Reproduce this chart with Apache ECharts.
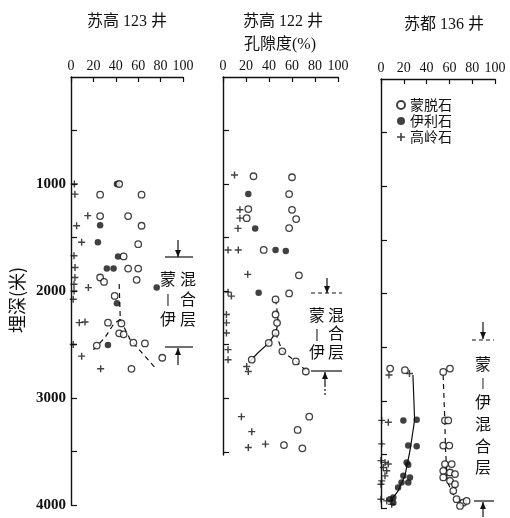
<!DOCTYPE html>
<html><head><meta charset="utf-8">
<script src="https://cdn.jsdelivr.net/npm/echarts@6/dist/echarts.min.js"></script>
<style>html,body{margin:0;padding:0;background:#fff}#c{width:510px;height:518px}</style>
</head><body><div id="c"></div>
<script>
// ---------- data ----------
const wellNames = ['苏高 123 井', '苏高 122 井', '苏都 136 井'];
const xTickValues = [0, 20, 40, 60, 80, 100];
const depthLabelValues = [1000, 2000, 3000, 4000];
const depthTickValues = [500, 1000, 1500, 2000, 2500, 3000, 3500, 4000];
const depthMax = [4000, 3530, 4000];
const legendNames = ['蒙脱石', '伊利石', '高岭石'];

// 苏高 123 井  [percent, depth m]
const p1Kaolinite = [[3,1000],[3.5,1095],[15,1296],[5,1390],[9.5,1545],[2.7,1671],[3.6,1780],[3.5,1874],[2.7,1937],[15.5,1968],[2.7,2000],[2,2077],[7.4,2296],[12.5,2290],[2,2500],[9.5,2609],[26.5,2727]];
const p1Illite = [[41,1000],[26,1385],[24,1545],[42,1677],[32,1790],[38,1790],[76.5,1968],[41,2115],[33,2505]];
const p1Smectite = [[43,1000],[26,1100],[63,1100],[26,1300],[51,1300],[63,1390],[60,1562],[47,1677],[51,1790],[60,1790],[26,1874],[29.5,1915],[58.6,1896],[39,2046],[33,2296],[45,2303],[43,2396],[47,2405],[55.7,2483],[66,2490],[23,2510],[81.5,2624],[54,2727]];
const p1Trunk = [[43,1935],[43.5,2100],[44,2265]];
const p1Left = [[44,2265],[38,2310],[30,2440],[18.5,2565]];
const p1Right = [[44,2265],[52.7,2452],[66,2609],[76.5,2734]];

// 苏高 122 井
const p2Kaolinite = [[10,915],[14.7,1240],[14.7,1318],[13,1414],[4.4,1615],[13.3,1615],[21.5,1843],[4.4,2009],[7.3,2046],[3,2218],[3,2296],[3,2390],[4.4,2546],[4.4,2640],[20.6,2703],[22,2750],[16,3172],[25,3312],[22,3460],[36.9,3428]];
const p2Illite = [[22,1093],[28,1414],[45.7,1615],[54.6,1624],[31,2015]];
const p2Smectite = [[26.5,927],[60,936],[57.5,1093],[22,1233],[20.6,1318],[60,1240],[63.6,1327],[57.5,1411],[35.4,1615],[66,1852],[57.5,2021],[45.7,2077],[45.7,2218],[47,2296],[45.7,2390],[39.8,2483],[25,2640],[51.6,2562],[63.4,2656],[72,2750],[75,3172],[64.9,3296],[53,3437],[69,3468]];
const p2Trunk = [[45.7,2077],[47,2180],[48,2296],[45.7,2390]];
const p2Left = [[45.7,2390],[39.8,2483],[30,2580],[23,2660]];
const p2Right = [[45.7,2390],[51.6,2562],[63.4,2656],[73,2750]];

// 苏都 136 井
const p3Kaolinite = [[7,2760],[25,2746],[0.6,3183],[6.4,3200],[0.6,3402],[0,3558],[3.5,3575],[6.4,3590],[2,3622],[5,3653],[3.5,3700],[0.6,3747],[0,3778],[0,3918],[5,3934],[9.4,3965]];
const p3Illite = [[19.6,3183],[31.3,3177],[23.9,3418],[31.3,3425],[22.5,3575],[23.9,3596],[19.6,3700],[25.4,3715],[23.9,3762],[18,3762],[15,3809],[10.8,3903],[7.9,3918],[10.8,3950]];
const p3Smectite = [[8,2700],[21,2715],[60.5,2700],[54.6,2731],[56.1,3183],[59,3183],[54.6,3418],[59.9,3418],[56.1,3590],[62,3590],[54.6,3653],[60.5,3669],[64.9,3684],[54.6,3715],[60.5,3747],[64.9,3778],[63.4,3840],[66.3,3918],[72.1,3950],[69.3,3981],[75.1,3934]];
const p3Left = [[28,2760],[29.5,3180],[25.5,3460],[21,3700],[15,3840],[8,3940]];
const p3Right = [[54.5,2760],[56,3190],[56.5,3420],[58,3750],[63,3870],[72,3950]];

// ---------- chart ----------
const INK = '#111';
const SERIF = "'Liberation Serif','DejaVu Serif','Noto Sans CJK SC',serif";
const CJK = "'Noto Sans CJK SC','Liberation Serif',sans-serif";
const plusPath = 'path://M4,0H6V4H10V6H6V10H4V6H0V4H4Z';

const grids = [
  {left: 71, top: 77, width: 112, height: 428},
  {left: 223, top: 77, width: 115, height: 378},
  {left: 381, top: 79, width: 114, height: 429}
];

const panels = [
  {k: p1Kaolinite, i: p1Illite, s: p1Smectite, lines: [[p1Trunk,'dashed'],[p1Left,'dashed'],[p1Right,'dashed']]},
  {k: p2Kaolinite, i: p2Illite, s: p2Smectite, lines: [[p2Trunk,'dashed'],[p2Left,'solid'],[p2Right,'dashed']]},
  {k: p3Kaolinite, i: p3Illite, s: p3Smectite, lines: [[p3Left,'solid'],[p3Right,'dashed']]}
];

const xAxes = grids.map((gr, idx) => ({
  type: 'value', gridIndex: idx, position: 'top', min: 0, max: 100, interval: 20,
  axisLine: {show: true, lineStyle: {color: INK, width: 1.3}},
  axisTick: {show: true, inside: true, length: 5, lineStyle: {color: INK, width: 1.2}},
  axisLabel: {show: true, margin: 4, fontSize: 14, color: INK, fontFamily: SERIF,
    customValues: xTickValues},
  splitLine: {show: false}
}));

const yAxes = grids.map((gr, idx) => ({
  type: 'value', gridIndex: idx, inverse: true, min: 0, max: depthMax[idx],
  axisLine: {show: true, onZero: false, lineStyle: {color: INK, width: 1.4}},
  axisTick: {show: true, inside: true, length: 6, lineStyle: {color: INK, width: 1.2},
    customValues: depthTickValues.filter(v => v <= depthMax[idx])},
  axisLabel: {show: idx === 0, margin: 5, fontSize: 15, fontWeight: 'bold', color: INK, fontFamily: SERIF,
    customValues: depthLabelValues, formatter: v => String(v)},
  splitLine: {show: false}
}));

const series = [];
panels.forEach((p, idx) => {
  p.lines.forEach(([d, style]) => {
    series.push({type: 'line', xAxisIndex: idx, yAxisIndex: idx, data: d, symbol: 'none',
      lineStyle: {color: INK, width: 1.2, type: style === 'dashed' ? [5, 4] : 'solid'},
      silent: true, z: 1, animation: false});
  });
  series.push({name: '高岭石', type: 'scatter', xAxisIndex: idx, yAxisIndex: idx, data: p.k,
    symbol: plusPath, symbolSize: 7, itemStyle: {color: INK}, z: 3, animation: false});
  series.push({name: '伊利石', type: 'scatter', xAxisIndex: idx, yAxisIndex: idx, data: p.i,
    symbol: 'circle', symbolSize: 6.5, itemStyle: {color: INK}, z: 3, animation: false});
  series.push({name: '蒙脱石', type: 'scatter', xAxisIndex: idx, yAxisIndex: idx, data: p.s,
    symbol: 'circle', symbolSize: 6.5, itemStyle: {color: '#fff', borderColor: INK, borderWidth: 1.3}, z: 4, animation: false});
});

// ---------- annotations ----------
const g = [];
function txt(x, y, s, size, font, rot) {
  g.push({type: 'text', x: x, y: y, rotation: rot || 0,
    style: {text: s, fill: INK, font: (size || 16) + 'px ' + (font || CJK), align: 'center', verticalAlign: 'middle'}});
}
function seg(x1, y1, x2, y2, dash) {
  g.push({type: 'line', shape: {x1, y1, x2, y2}, style: {stroke: INK, lineWidth: 1.2, lineDash: dash || null}});
}
function arrow(x, yFrom, yTo) {
  const d = yTo > yFrom ? 1 : -1;
  seg(x, yFrom, x, yTo);
  g.push({type: 'polygon', shape: {points: [[x - 3, yTo - 7 * d], [x + 3, yTo - 7 * d], [x, yTo]]}, style: {fill: INK}});
}
// titles
txt(127, 22, wellNames[0], 16, SERIF);
txt(283, 22, wellNames[1], 16, SERIF);
txt(280, 45, '孔隙度(%)', 16, SERIF);
txt(444, 25, wellNames[2], 16, SERIF);
txt(17, 300, '埋深(米)', 18, CJK, Math.PI / 2);

// panel 1 mixed layer
arrow(178, 240, 257); seg(165, 257, 193, 257);
txt(168, 279, '蒙'); txt(188, 279, '混'); txt(168, 299, '丨', 13); txt(188, 299, '合');
txt(168, 319, '伊'); txt(188, 319, '层');
seg(165, 347, 193, 347); arrow(178, 365, 348);

// panel 2 mixed layer
arrow(327, 278, 293); seg(311, 293, 342, 293, [4, 3]);
txt(317, 315, '蒙'); txt(336, 315, '混'); txt(317, 334, '丨', 13); txt(336, 333, '合');
txt(317, 352, '伊'); txt(336, 352, '层');
seg(311, 371, 342, 371); arrow(325, 387, 372); seg(325, 389, 325, 396, [2, 2]);

// panel 3 mixed layer
arrow(483, 322, 339); seg(472, 340, 494, 340, [4, 3]);
txt(483, 364, '蒙'); txt(483, 383, '丨', 12); txt(483, 402, '伊'); txt(483, 424, '混');
txt(483, 446, '合'); txt(483, 467, '层');
seg(474, 501, 494, 501); arrow(483, 517, 502);

const chart = echarts.init(document.getElementById('c'));
chart.setOption({
  animation: false,
  backgroundColor: '#fff',
  grid: grids,
  xAxis: xAxes,
  yAxis: yAxes,
  legend: {
    data: legendNames, orient: 'vertical', left: 391, top: 93, itemGap: 2,
    itemWidth: 8, itemHeight: 8, selectedMode: false,
    textStyle: {fontSize: 14, color: INK, fontFamily: CJK}
  },
  series: series,
  graphic: g
});
</script></body></html>
